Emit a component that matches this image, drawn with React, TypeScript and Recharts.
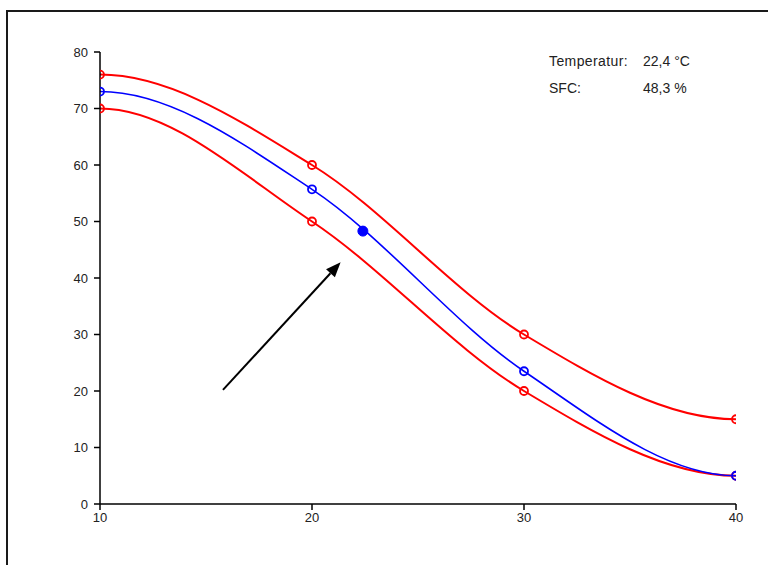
import React from 'react';
import { LineChart, Line, XAxis, YAxis, ReferenceDot, ReferenceLine } from 'recharts';

// Temperature (°C) on x, SFC (%) on y
const temps = [10, 20, 30, 40];
const upperLimit = [76, 60, 30, 15];
const sfcCurve = [73, 55.7, 23.5, 5];
const lowerLimit = [70, 50, 20, 5];

const xTicks = [10, 20, 30, 40];
const yTicks = [0, 10, 20, 30, 40, 50, 60, 70, 80];

// current measurement
const currentTemp = 22.4;
const currentSfc = 48.3;

// arrow annotation (data coords)
const arrowFrom = { x: 15.8, y: 20.2 };
const arrowTo = { x: 21.35, y: 42.8 };

const data = temps.map((t, i) => ({
  t,
  upper: upperLimit[i],
  sfc: sfcCurve[i],
  lower: lowerLimit[i],
}));

// cardinal-style spline with flat tangents at both ends
const flatEndSpline = (context: any) => {
  let xs: number[] = [];
  let ys: number[] = [];
  return {
    areaStart() {},
    areaEnd() {},
    lineStart() {
      xs = [];
      ys = [];
    },
    point(x: number, y: number) {
      xs.push(+x);
      ys.push(+y);
    },
    lineEnd() {
      const n = xs.length;
      if (!n) return;
      context.moveTo(xs[0], ys[0]);
      if (n === 1) return;
      const tx: number[] = [];
      const ty: number[] = [];
      for (let i = 0; i < n; i++) {
        if (i === 0) {
          tx[i] = xs[1] - xs[0];
          ty[i] = 0;
        } else if (i === n - 1) {
          tx[i] = xs[i] - xs[i - 1];
          ty[i] = 0;
        } else {
          tx[i] = (xs[i + 1] - xs[i - 1]) / 2;
          ty[i] = (ys[i + 1] - ys[i - 1]) / 2;
        }
      }
      for (let i = 0; i < n - 1; i++) {
        context.bezierCurveTo(
          xs[i] + tx[i] / 3, ys[i] + ty[i] / 3,
          xs[i + 1] - tx[i + 1] / 3, ys[i + 1] - ty[i + 1] / 3,
          xs[i + 1], ys[i + 1]
        );
      }
    },
  };
};

const Arrow = (props: any) => {
  const { x1, y1, x2, y2 } = props;
  if ([x1, y1, x2, y2].some((v) => v == null || isNaN(v))) return null;
  const a = Math.atan2(y2 - y1, x2 - x1);
  const L = 15;
  const W = 6;
  const bx = x2 - L * Math.cos(a);
  const by = y2 - L * Math.sin(a);
  const pts = `${x2},${y2} ${bx - W * Math.sin(a)},${by + W * Math.cos(a)} ${bx + W * Math.sin(a)},${by - W * Math.cos(a)}`;
  return (
    <g>
      <line x1={x1} y1={y1} x2={bx} y2={by} stroke="#000" strokeWidth={2} />
      <polygon points={pts} fill="#000" />
    </g>
  );
};

const font = '"Liberation Sans", Arial, sans-serif';
const tickStyle = { fill: '#222', fontSize: 13, fontFamily: font };

export default function App() {
  return (
    <div style={{ position: 'fixed', left: 0, top: 0, width: 768, height: 565, background: '#fff', overflow: 'hidden' }}>
      <div
        style={{
          position: 'absolute', left: 6, top: 10, width: 900, height: 700,
          borderTop: '2px solid #1a1a1a', borderLeft: '2px solid #1a1a1a',
        }}
      />
      <div style={{ position: 'absolute', left: 0, top: 0 }}>
        <LineChart width={768} height={565} data={data} margin={{ top: 52, right: 32, bottom: 31, left: 60 }}>
          <XAxis
            dataKey="t"
            type="number"
            domain={[10, 40]}
            ticks={xTicks}
            allowDataOverflow
            height={30}
            tick={tickStyle}
            tickSize={6}
            tickMargin={3}
            axisLine={{ stroke: '#000', strokeWidth: 1.5 }}
            tickLine={{ stroke: '#000', strokeWidth: 1.5 }}
          />
          <YAxis
            type="number"
            domain={[0, 80]}
            ticks={yTicks}
            width={40}
            tick={tickStyle}
            tickSize={6}
            tickMargin={6}
            axisLine={{ stroke: '#000', strokeWidth: 1.5 }}
            tickLine={{ stroke: '#000', strokeWidth: 1.5 }}
          />
          <Line
            dataKey="upper"
            type={flatEndSpline as any}
            stroke="#ff0000"
            strokeWidth={2}
            dot={{ r: 4, fill: 'none', stroke: '#ff0000', strokeWidth: 1.8 }}
            activeDot={false}
            isAnimationActive={false}
          />
          <Line
            dataKey="lower"
            type={flatEndSpline as any}
            stroke="#ff0000"
            strokeWidth={2}
            dot={{ r: 4, fill: 'none', stroke: '#ff0000', strokeWidth: 1.8 }}
            activeDot={false}
            isAnimationActive={false}
          />
          <Line
            dataKey="sfc"
            type={flatEndSpline as any}
            stroke="#0000ff"
            strokeWidth={1.6}
            dot={{ r: 4, fill: 'none', stroke: '#0000ff', strokeWidth: 1.8 }}
            activeDot={false}
            isAnimationActive={false}
          />
          <ReferenceDot x={currentTemp} y={currentSfc} r={5} fill="#0000ff" stroke="#0000ff" />
          <ReferenceLine segment={[arrowFrom, arrowTo]} shape={Arrow} />
        </LineChart>
      </div>
      <div style={{ position: 'absolute', left: 549, top: 48, fontFamily: font, fontSize: 14, color: '#222', lineHeight: '27px' }}>
        <div style={{ letterSpacing: 0.4 }}>Temperatur:</div>
        <div>SFC:</div>
      </div>
      <div style={{ position: 'absolute', left: 643, top: 48, fontFamily: font, fontSize: 14, color: '#222', lineHeight: '27px' }}>
        <div>{currentTemp.toString().replace('.', ',')} °C</div>
        <div>{currentSfc.toString().replace('.', ',')} %</div>
      </div>
    </div>
  );
}
